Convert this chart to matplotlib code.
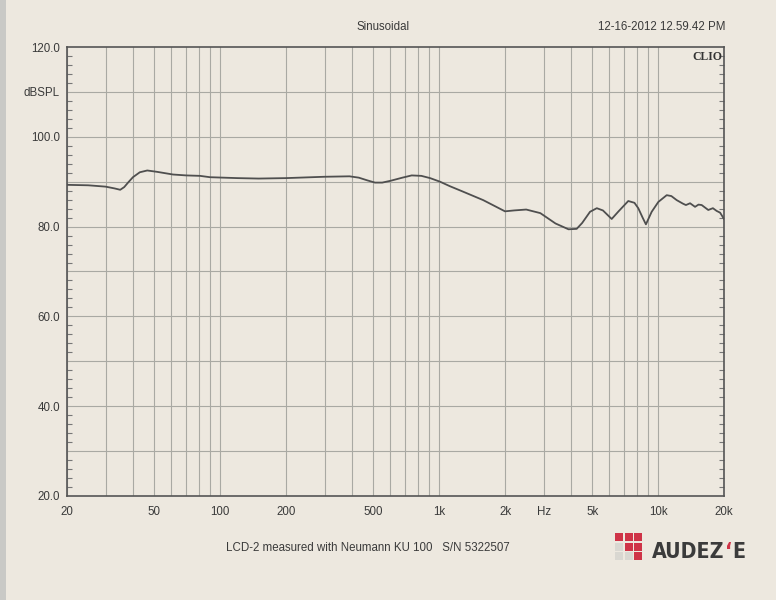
import numpy as np
import matplotlib.pyplot as plt
from matplotlib import font_manager
from matplotlib.ticker import FixedLocator, FixedFormatter, NullFormatter
from matplotlib.patches import Rectangle

# ---- data ----
freq_hz = [20, 25, 30, 33, 35, 36.5, 38, 40, 43, 46.5, 51.5, 61, 70, 81, 90, 120, 150,
           200, 300, 390, 430, 470, 510, 550, 600, 680, 750, 830, 910, 1010, 1120,
           1270, 1590, 2000, 2200, 2500, 2900, 3400, 3900, 4250, 4500, 4890, 5250,
           5600, 6140, 6600, 7310, 7800, 8120, 8500, 8800, 9350, 10030, 10950,
           11500, 12160, 13000, 13400, 14000, 14750, 15300, 15820, 16950, 17800,
           18500, 19200, 20000]
spl_db = [89.3, 89.2, 88.9, 88.5, 88.2, 88.8, 89.8, 91.0, 92.1, 92.5, 92.2, 91.6, 91.4,
          91.3, 91.0, 90.8, 90.7, 90.8, 91.1, 91.2, 90.9, 90.3, 89.8, 89.8, 90.2,
          90.9, 91.4, 91.3, 90.8, 90.0, 89.0, 87.9, 85.9, 83.4, 83.6, 83.8, 83.0,
          80.7, 79.4, 79.5, 80.8, 83.3, 84.1, 83.6, 81.7, 83.4, 85.7, 85.3, 84.1,
          82.0, 80.5, 83.3, 85.5, 87.0, 86.8, 85.9, 85.1, 84.8, 85.2, 84.4, 84.9,
          84.8, 83.7, 84.1, 83.5, 83.1, 81.7]

x_tick_vals = [20, 50, 100, 200, 500, 1000, 2000, 3000, 5000, 10000, 20000]
x_tick_labels = ["20", "50", "100", "200", "500", "1k", "2k", "Hz", "5k", "10k", "20k"]
y_tick_vals = [20, 40, 60, 80, 100, 110, 120]
y_tick_labels = ["20.0", "40.0", "60.0", "80.0", "100.0", "dBSPL", "120.0"]

W, H = 776, 600
BG = "#EDE8DF"
TXT = "#3a3a3a"

plt.rcParams['font.family'] = ['Liberation Sans', 'DejaVu Sans']

fig = plt.figure(figsize=(W / 100, H / 100), dpi=100, facecolor=BG)

def fx(px):
    return px / W

def fy(py):
    return 1 - py / H

L, R, T, B = 67, 724, 47, 496
ax = fig.add_axes([fx(L), fy(B), fx(R - L), (B - T) / H], facecolor=BG)

# scan edge strip
fig.add_artist(Rectangle((0, 0), fx(6), 1, transform=fig.transFigure,
                         facecolor="#C9C9C6", edgecolor="none"))

ax.semilogx(freq_hz, spl_db, color="#4f4f4f", lw=1.3, zorder=3)
ax.set_xlim(20, 20000)
ax.set_ylim(20, 120)

grid_x = []
for dec in [10, 100, 1000, 10000]:
    for m in range(1, 10):
        v = m * dec
        if 20 <= v <= 20000:
            grid_x.append(v)
for v in grid_x:
    ax.axvline(v, color="#A9A9A3", lw=0.8, zorder=1)
for v in range(30, 120, 10):
    ax.axhline(v, color="#A9A9A3", lw=0.8, zorder=1)

ax.xaxis.set_major_locator(FixedLocator(x_tick_vals))
ax.xaxis.set_major_formatter(FixedFormatter(x_tick_labels))
ax.xaxis.set_minor_locator(FixedLocator([]))
ax.xaxis.set_minor_formatter(NullFormatter())
ax.tick_params(axis='x', which='both', length=0, pad=7, labelsize=8.3, labelcolor=TXT)

ax.yaxis.set_major_locator(FixedLocator(y_tick_vals))
ax.yaxis.set_major_formatter(FixedFormatter(y_tick_labels))
ax.yaxis.set_minor_locator(FixedLocator([v for v in range(22, 120, 2) if v % 10 != 0]))
ax.tick_params(axis='y', which='major', length=0, pad=5, labelsize=8.3, labelcolor=TXT)
ax.tick_params(axis='y', which='minor', direction='in', length=3.5, width=0.8,
               color="#777777", left=True, right=True)

for s in ax.spines.values():
    s.set_color("#555555")
    s.set_linewidth(1.2)

fig.text(fx(383), fy(27), "Sinusoidal", ha='center', va='center', fontsize=8.3, color=TXT)
fig.text(fx(725), fy(27), "12-16-2012 12.59.42 PM", ha='right', va='center',
         fontsize=8.3, color=TXT)
ax.text(0.997, 0.992, "CLIO", transform=ax.transAxes, ha='right', va='top',
        fontsize=8.5, fontweight='bold', family=['Liberation Serif', 'DejaVu Serif'],
        color="#333333")

fig.text(fx(368), fy(548), "LCD-2 measured with Neumann KU 100   S/N 5322507",
         ha='center', va='center', fontsize=8.3, color=TXT)

# logo squares
RED = "#CF3347"
GRY = "#D9D7D1"
pattern = [[RED, RED, RED], [GRY, RED, RED], [GRY, GRY, RED]]
sq, pitch = 8.3, 9.5
x0, y0 = 615, 533
for r in range(3):
    for c in range(3):
        px = x0 + c * pitch
        py = y0 + r * pitch
        fig.add_artist(Rectangle((fx(px), fy(py + sq)), sq / W, sq / H,
                                 transform=fig.transFigure, facecolor=pattern[r][c],
                                 edgecolor="none"))

# pick a narrow font for the logo if one is installed
names = {(f.name, f.stretch) for f in font_manager.fontManager.ttflist}
if any(n == 'Liberation Sans Narrow' for n, s in names):
    logo_font, logo_stretch = ['Liberation Sans Narrow'], 'normal'
elif any(n == 'DejaVu Sans' and str(s) in ('condensed', 'semi-condensed', '75', '87')
         for n, s in names):
    logo_font, logo_stretch = ['DejaVu Sans'], 'condensed'
else:
    logo_font, logo_stretch = ['Roboto', 'DejaVu Sans'], 'normal'

def draw_logo(fs):
    parts = [("AUDEZ", "#3b3b3b"), ("\u2018", RED), ("E", "#3b3b3b")]
    xpx = 652.0
    arts = []
    for s, col in parts:
        t = fig.text(xpx / W, fy(558), s, ha='left', va='baseline', fontsize=fs,
                     fontweight='bold', family=logo_font, fontstretch=logo_stretch,
                     color=col)
        fig.canvas.draw()
        bb = t.get_window_extent()
        xpx = bb.x1 + 0.5
        arts.append(t)
    return arts, xpx - 652.0

arts, width = draw_logo(20)
if width > 96:
    for a in arts:
        a.remove()
    arts, width = draw_logo(20 * 94.0 / width)

fig.savefig("out.png", dpi=100, facecolor=BG)
